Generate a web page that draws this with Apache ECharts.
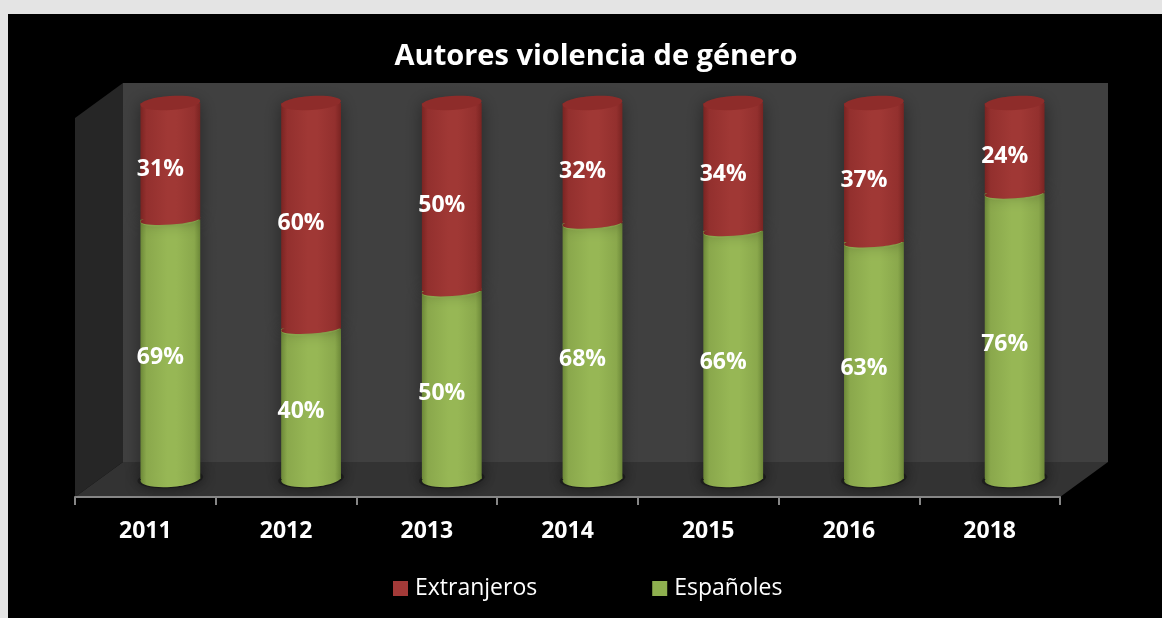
<!DOCTYPE html>
<html>
<head>
<meta charset="utf-8">
<style>
  html, body { margin: 0; padding: 0; background: #e4e4e4; }
  #chart { width: 1162px; height: 618px; }
</style>
<script src="https://cdn.jsdelivr.net/npm/echarts@6/dist/echarts.min.js"></script>
</head>
<body>
<div id="chart"></div>
<script>
const years = ['2011', '2012', '2013', '2014', '2015', '2016', '2018'];
const espanoles = [69, 40, 50, 68, 66, 63, 76];
const extranjeros = [31, 60, 50, 32, 34, 37, 24];

const chart = echarts.init(document.getElementById('chart'));

const hGradient = (edge, side, mid) => ({
  type: 'linear', x: 0, y: 0, x2: 1, y2: 0,
  colorStops: [
    { offset: 0, color: edge },
    { offset: 0.1, color: side },
    { offset: 0.45, color: mid },
    { offset: 0.6, color: mid },
    { offset: 0.9, color: side },
    { offset: 1, color: edge },
  ],
});

const cylinder = (edge, side, mid, cap, onFloor) => (params, api) => {
  const i = api.value(0);
  const bottom = api.coord([i, api.value(1)]);
  const top = api.coord([i, api.value(2)]);
  const w = api.size([1, 0])[0] * 0.425;
  const x = bottom[0] - w / 2;
  const tilt = 0.07;
  const ell = (cy, ry, rx, style) => ({
    type: 'ellipse',
    shape: { cx: bottom[0], cy: cy, rx: rx, ry: ry },
    rotation: tilt,
    originX: bottom[0],
    originY: cy,
    style: style,
  });
  const fill = hGradient(edge, side, mid);
  const pct = Math.round(api.value(2) - api.value(1)) + '%';
  const children = [];
  // soft dark pool on the floor under the cylinder
  if (onFloor) {
    children.push(ell(bottom[1], 9, w / 2 + 3, { fill: 'rgba(20,20,20,0.55)', shadowBlur: 14, shadowColor: 'rgba(0,0,0,0.8)' }));
  }
  children.push(
    { type: 'rect', shape: { x: x, y: top[1], width: w, height: bottom[1] - top[1] },
      style: { fill: fill, shadowBlur: 16, shadowColor: 'rgba(0,0,0,0.4)' } },
    ell(bottom[1], onFloor ? 8 : 5, w / 2, { fill: fill }),
    ell(top[1], 7, w / 2, { fill: cap }),
    { type: 'text', x: bottom[0] - 10, y: (top[1] + bottom[1]) / 2 + 8,
      style: { text: pct, fill: '#fff', font: 'bold 23px "Open Sans"', align: 'center', verticalAlign: 'middle' } }
  );
  return { type: 'group', children: children };
};

const option = {
  animation: false,
  backgroundColor: '#e4e4e4',
  title: {
    text: 'Autores violencia de género',
    left: 591, top: 37, textAlign: 'center',
    textStyle: { color: '#fff', fontSize: 29, fontWeight: 'bold', fontFamily: 'Open Sans' },
  },
  graphic: [
    { type: 'rect', z: -10, shape: { x: 8, y: 14, width: 1154, height: 604 }, style: { fill: '#000' } },
    { type: 'rect', z: -9, shape: { x: 123, y: 83, width: 985, height: 379 }, style: { fill: '#404040' } },
    { type: 'polygon', z: -9, shape: { points: [[75, 118], [123, 83], [123, 462], [75, 497]] }, style: { fill: '#262626' } },
    { type: 'polygon', z: -9, shape: { points: [[75, 497], [123, 462], [1108, 462], [1060, 497]] }, style: { fill: '#333333' } },
  ],
  legend: {
    data: ['Extranjeros', 'Españoles'],
    left: 393, top: 577, padding: 0,
    icon: 'rect', itemWidth: 15, itemHeight: 15, itemGap: 115,
    textStyle: { color: '#fff', fontSize: 23, fontFamily: 'Open Sans', padding: [0, 0, 0, 2] },
  },
  grid: [
    { left: 100, right: 77, top: 103, bottom: 139 },
    { left: 75, right: 102, top: 462, bottom: 121 },
  ],
  xAxis: [
    { type: 'category', gridIndex: 0, data: years, show: false },
    {
      type: 'category', gridIndex: 1, data: years,
      axisLine: { lineStyle: { color: '#868686', width: 2 } },
      axisTick: { show: true, alignWithLabel: false, length: 8, lineStyle: { color: '#868686', width: 2 } },
      axisLabel: { color: '#fff', fontSize: 23, fontWeight: 'bold', fontFamily: 'Open Sans', margin: 23 },
    },
  ],
  yAxis: [
    { type: 'value', gridIndex: 0, min: 0, max: 100, show: false },
    { type: 'value', gridIndex: 1, show: false },
  ],
  series: [
    {
      name: 'Españoles', type: 'custom', xAxisIndex: 0, yAxisIndex: 0,
      itemStyle: { color: '#8fb04f' },
      encode: { x: 0, y: [1, 2] },
      data: years.map((y, i) => [i, 0, espanoles[i]]),
      renderItem: cylinder('#6c8838', '#8aa84c', '#97b755', '#97b755', true),
    },
    {
      name: 'Extranjeros', type: 'custom', xAxisIndex: 0, yAxisIndex: 0,
      itemStyle: { color: '#a33a38' },
      encode: { x: 0, y: [1, 2] },
      data: years.map((y, i) => [i, espanoles[i], espanoles[i] + extranjeros[i]]),
      renderItem: cylinder('#7a2422', '#93302e', '#a03835', '#8e2c2a', false),
    },
  ],
};

chart.setOption(option);
</script>
</body>
</html>
